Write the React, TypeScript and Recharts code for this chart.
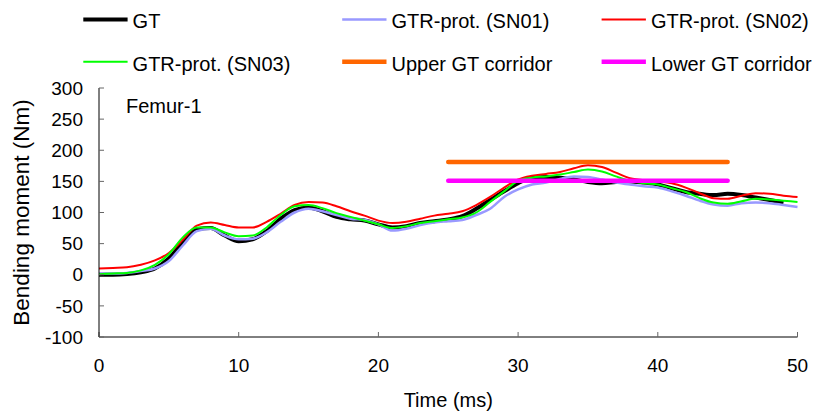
import React from 'react';
import { LineChart, Line, XAxis, YAxis, Legend, ReferenceDot } from 'recharts';

const FONT = '"Liberation Sans", Arial, Helvetica, sans-serif';

const times = [0,1,2,3,4,5,6,7,8,9,10,11,12,13,14,15,16,17,18,19,20,21,22,23,24,25,26,27,28,29,30,31,32,33,34,35,36,37,38,39,40,41,42,43,44,45,46,47,48,49,50];

const gtValues = [0,0,1,4,10,26,52,73,75,63,54,57,70,90,104,108,102,93,89,87,81,76,78,83,86,89,94,106,120,134,147,156,157,156,153,149,147,149,150,148,145,139,133,130,128,130,128,124,120,116];
const sn01Values = [2,2,3,6,10,22,47,70,74,63,57,58,68,85,100,106,102,96,90,88,81,71,74,80,84,86,88,96,106,125,137,145,148,154,158,157,153,148,145,142,140,134,127,119,113,111,115,116,115,112,109];
const sn02Values = [10,11,12,16,23,35,56,79,84,80,76,76,85,98,112,117,116,110,102,95,87,83,85,90,95,98,102,112,125,140,153,159,162,165,171,176,173,164,155,152,150,147,140,131,123,122,127,131,130,127,125];
const sn03Values = [1,2,3,7,16,33,60,76,76,68,62,63,76,96,110,112,107,99,93,87,81,75,78,83,86,89,92,100,117,134,151,156,158,161,165,169,166,158,151,147,145,139,133,123,116,114,118,122,121,119,117];

const corridorTimes = [25, 45];
const upperCorridor = 181;
const lowerCorridor = 151;

const xTicks = [0, 10, 20, 30, 40, 50];
const yTicks = [-100, -50, 0, 50, 100, 150, 200, 250, 300];

const NAMES = {
  gt: 'GT',
  sn01: 'GTR-prot. (SN01)',
  sn02: 'GTR-prot. (SN02)',
  sn03: 'GTR-prot. (SN03)',
  upper: 'Upper GT corridor',
  lower: 'Lower GT corridor',
};
const legendOrder = [NAMES.gt, NAMES.sn01, NAMES.sn02, NAMES.sn03, NAMES.upper, NAMES.lower];
const legendStroke: Record<string, number> = {
  [NAMES.gt]: 4,
  [NAMES.sn01]: 2.5,
  [NAMES.sn02]: 2,
  [NAMES.sn03]: 2,
  [NAMES.upper]: 4.5,
  [NAMES.lower]: 4.5,
};

const data = times.map((t, i) => ({
  t,
  gt: i < gtValues.length ? gtValues[i] : null,
  sn01: sn01Values[i],
  sn02: sn02Values[i],
  sn03: sn03Values[i],
  upper: corridorTimes.includes(t) ? upperCorridor : null,
  lower: corridorTimes.includes(t) ? lowerCorridor : null,
}));

const colX = [75.3, 334.2, 593.6];
const rowY = [11.5, 53.8];

function LegendContent(props: any) {
  const payload: any[] = props.payload || [];
  const items = legendOrder
    .map((n) => payload.find((p) => p.value === n))
    .filter(Boolean);
  return (
    <svg width={808} height={80} style={{ display: 'block', overflow: 'visible' }}>
      {items.map((it: any, i: number) => {
        const col = i % 3;
        const row = Math.floor(i / 3);
        const x = colX[col];
        const y = rowY[row];
        return (
          <g key={it.value}>
            <line x1={x} x2={x + 44.3} y1={y} y2={y} stroke={it.color} strokeWidth={legendStroke[it.value]} />
            <text x={x + 49.3} y={y + 8.9} fontSize={20} fontFamily={FONT} fill="#000">
              {it.value}
            </text>
          </g>
        );
      })}
    </svg>
  );
}

function YTitle(props: any) {
  const vb = props.viewBox || { x: 0, y: 0, width: 0, height: 0 };
  const cx = vb.x + 20.5;
  const cy = vb.y + vb.height / 2;
  return (
    <text
      transform={`translate(${cx},${cy}) rotate(-90)`}
      textAnchor="middle"
      fontSize={22.5}
      fontFamily={FONT}
      fill="#000"
    >
      Bending moment (Nm)
    </text>
  );
}

function XTitle(props: any) {
  const vb = props.viewBox || { x: 0, y: 0, width: 0, height: 0 };
  return (
    <text
      x={vb.x + vb.width / 2}
      y={vb.y + 69.7}
      textAnchor="middle"
      fontSize={20}
      fontFamily={FONT}
      fill="#000"
    >
      Time (ms)
    </text>
  );
}

function PanelLabel(props: any) {
  const vb = props.viewBox || { x: 0, y: 0 };
  return (
    <text x={vb.x + 27} y={vb.y + 25.3} fontSize={20} fontFamily={FONT} fill="#000">
      Femur-1
    </text>
  );
}

const tickStyle = { fontSize: 19, fill: '#000', fontFamily: FONT };

export default function App() {
  return (
    <div style={{ position: 'absolute', left: 8, top: 8, width: 808, height: 405, overflow: 'visible' }}>
      <LineChart
        width={808}
        height={405}
        data={data}
        margin={{ top: 80, right: 18.5, bottom: 0, left: 0 }}
        style={{ fontFamily: FONT, overflow: 'visible' }}
      >
        <XAxis
          dataKey="t"
          type="number"
          domain={[0, 50]}
          ticks={xTicks}
          height={76}
          tickSize={-5}
          tickMargin={27}
          tick={tickStyle}
          tickLine={{ stroke: '#666' }}
          axisLine={{ stroke: '#000' }}
          label={<XTitle />}
        />
        <XAxis
          xAxisId="top"
          orientation="top"
          dataKey="t"
          type="number"
          domain={[0, 50]}
          height={0}
          tick={false}
          tickLine={false}
          axisLine={{ stroke: '#000' }}
        />
        <YAxis
          type="number"
          domain={[-100, 300]}
          ticks={yTicks}
          width={91}
          tickSize={-5}
          tickMargin={21}
          tick={tickStyle}
          tickLine={{ stroke: '#666' }}
          axisLine={{ stroke: '#000' }}
          interval={0}
          label={<YTitle />}
        />
        <YAxis
          yAxisId="right"
          orientation="right"
          type="number"
          domain={[-100, 300]}
          width={0}
          tick={false}
          tickLine={false}
          axisLine={{ stroke: '#000' }}
        />
        <Legend
          layout="horizontal"
          verticalAlign="middle"
          align="center"
          wrapperStyle={{ position: 'absolute', top: 0, left: 0, width: 808, height: 80 }}
          content={<LegendContent />}
        />
        <ReferenceDot x={0} y={300} r={0} fill="none" stroke="none" label={<PanelLabel />} />
        <Line type="monotone" dataKey="gt" name={NAMES.gt} stroke="#000000" strokeWidth={4} dot={false} isAnimationActive={false} />
        <Line type="monotone" dataKey="sn01" name={NAMES.sn01} stroke="#9999FF" strokeWidth={2.5} dot={false} isAnimationActive={false} />
        <Line type="monotone" dataKey="sn02" name={NAMES.sn02} stroke="#FF0000" strokeWidth={2} dot={false} isAnimationActive={false} />
        <Line type="monotone" dataKey="sn03" name={NAMES.sn03} stroke="#00FF00" strokeWidth={2} dot={false} isAnimationActive={false} />
        <Line type="linear" dataKey="upper" name={NAMES.upper} stroke="#FF6600" strokeWidth={4.5} strokeLinecap="round" dot={false} connectNulls isAnimationActive={false} />
        <Line type="linear" dataKey="lower" name={NAMES.lower} stroke="#FF00FF" strokeWidth={4.5} strokeLinecap="round" dot={false} connectNulls isAnimationActive={false} />
      </LineChart>
    </div>
  );
}
